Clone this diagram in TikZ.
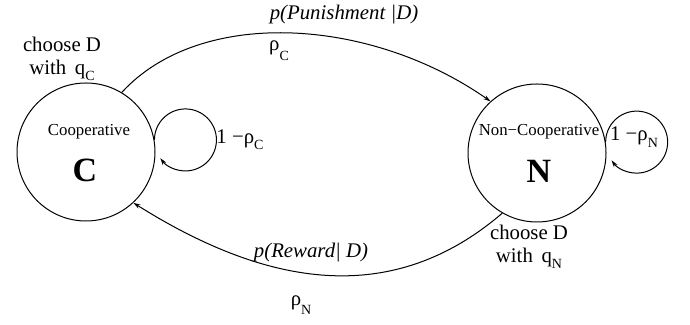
\documentclass[tikz,border=0pt]{standalone}
\usepackage{fontspec}
\setmainfont{Liberation Serif}
\usetikzlibrary{arrows.meta}
\newcommand{\lowsub}[2][3.2pt]{\raisebox{-#1}{\fontsize{7}{8}\selectfont #2}}

\begin{document}
\begin{tikzpicture}[
        x=0.5pt, y=0.5pt,
        state/.style={circle, draw, line width=0.5pt, minimum size=69pt, inner sep=0pt},
        lbl/.style={font=\fontsize{10.4}{11.5}\selectfont, align=center, inner sep=0pt},
        statename/.style={font=\fontsize{8.4}{10}\selectfont, inner sep=0pt},
        stateletter/.style={font=\fontsize{17}{20}\selectfont\bfseries, inner sep=0pt},
        arrow/.style={-{Stealth[length=3.6pt,width=2.2pt]}, line width=0.5pt}
    ]
        \useasboundingbox (0,0) rectangle (690,325);

        \node[state] (coop) at (86,173) {};
        \node[state] (noncoop) at (537,172) {};

        \node[statename] (coopname) at (89,193) {Cooperative};
        \node[stateletter] (coopletter) at (85,155) {C};
        \node[statename] (noncoopname) at (539,193) {Non−Cooperative};
        \node[stateletter] (noncoopletter) at (539,154) {N};

        % transitions between the two states
        \draw[arrow] (coop.59) .. controls (200,318) and (370,308) .. (noncoop.132);
        \draw[arrow] (noncoop.240) .. controls (392,17) and (267,38) .. (coop.-47);

        % staying in the same state
        \draw[arrow] (coop.10) arc[start angle=180, end angle=-144, radius=15.5pt];
        \draw[arrow] (noncoop.9) arc[start angle=180, end angle=-144, radius=15.5pt];

        \node[lbl] (punish) at (344,310) {\itshape p(Punishment |D)};
        \node[lbl] (rhoc) at (279,274) {ρ\lowsub[5pt]{C}};
        \node[lbl] (choosec) at (62,266) {choose D\\with\, q\lowsub{C}};
        \node[lbl] (stayc) at (240,185) {1 −ρ\lowsub{C}};
        \node[lbl] (stayn) at (634,188) {1 −ρ\lowsub{N}};
        \node[lbl] (reward) at (311,72) {\itshape p(Reward| D)};
        \node[lbl] (rhon) at (301,20) {ρ\lowsub[4.5pt]{N}};
        \node[lbl] (choosen) at (529,78) {choose D\\with\, q\lowsub{N}};
    \end{tikzpicture}
\end{document}
